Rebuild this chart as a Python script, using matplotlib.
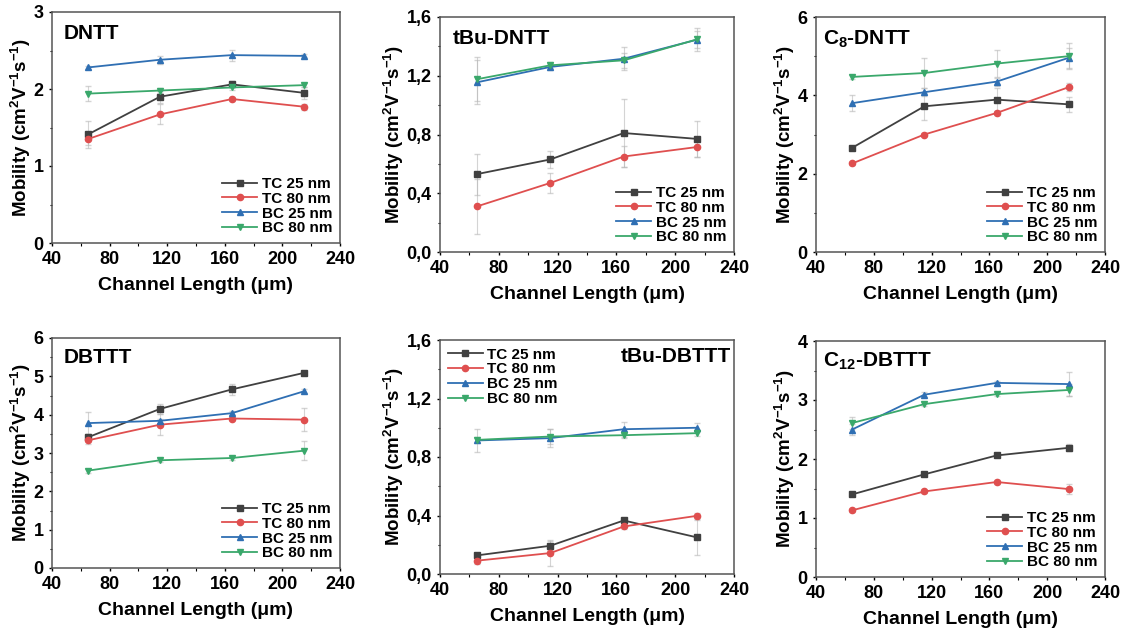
import numpy as np
import matplotlib
matplotlib.use('Agg')
from matplotlib import pyplot as plt
from matplotlib.ticker import MultipleLocator, FuncFormatter

plt.rcParams['font.family'] = ['Liberation Sans', 'DejaVu Sans']
plt.rcParams['font.weight'] = 'bold'
plt.rcParams['mathtext.fontset'] = 'custom'
plt.rcParams['mathtext.rm'] = 'Liberation Sans:bold'
plt.rcParams['mathtext.bf'] = 'Liberation Sans:bold'
plt.rcParams['mathtext.default'] = 'bf'

# channel lengths (um)
L = [65, 115, 165, 215]
series = ['TC 25 nm', 'TC 80 nm', 'BC 25 nm', 'BC 80 nm']

# DNTT
dntt = [[1.41, 1.90, 2.06, 1.95],
        [1.35, 1.67, 1.87, 1.77],
        [2.28, 2.38, 2.44, 2.43],
        [1.94, 1.98, 2.02, 2.05]]
dntt_err = [[0.17, 0.08, 0.04, 0.08],
            [0.08, 0.13, 0.03, 0.04],
            [0.02, 0.05, 0.07, 0.02],
            [0.10, 0.03, 0.03, 0.03]]
# tBu-DNTT
tbu_dntt = [[0.53, 0.63, 0.81, 0.77],
            [0.31, 0.47, 0.65, 0.715],
            [1.155, 1.26, 1.316, 1.446],
            [1.176, 1.271, 1.305, 1.448]]
tbu_dntt_err = [[0.14, 0.06, 0.23, 0.12],
                [0.19, 0.07, 0.07, 0.07],
                [0.15, 0.02, 0.08, 0.08],
                [0.15, 0.02, 0.05, 0.06]]
# C8-DNTT
c8_dntt = [[2.66, 3.72, 3.89, 3.77],
           [2.26, 3.00, 3.55, 4.21],
           [3.80, 4.08, 4.35, 4.96],
           [4.47, 4.57, 4.81, 5.00]]
c8_dntt_err = [[0.05, 0.35, 0.30, 0.20],
               [0.05, 0.05, 0.05, 0.10],
               [0.20, 0.10, 0.10, 0.25],
               [0.05, 0.38, 0.35, 0.33]]
# DBTTT
dbttt = [[3.41, 4.15, 4.66, 5.09],
         [3.33, 3.74, 3.90, 3.87],
         [3.78, 3.84, 4.04, 4.61],
         [2.54, 2.81, 2.87, 3.06]]
dbttt_err = [[0.08, 0.12, 0.15, 0.05],
             [0.10, 0.28, 0.05, 0.30],
             [0.28, 0.05, 0.05, 0.05],
             [0.05, 0.05, 0.05, 0.25]]
# tBu-DBTTT
tbu_dbttt = [[0.127, 0.193, 0.366, 0.25],
             [0.091, 0.143, 0.325, 0.398],
             [0.913, 0.929, 0.99, 1.00],
             [0.917, 0.94, 0.949, 0.963]]
tbu_dbttt_err = [[0.02, 0.03, 0.02, 0.12],
                 [0.02, 0.09, 0.02, 0.02],
                 [0.08, 0.06, 0.05, 0.03],
                 [0.02, 0.05, 0.02, 0.02]]
# C12-DBTTT
c12_dbttt = [[1.40, 1.74, 2.06, 2.19],
             [1.13, 1.45, 1.61, 1.49],
             [2.50, 3.09, 3.29, 3.27],
             [2.61, 2.93, 3.10, 3.17]]
c12_dbttt_err = [[0.03, 0.03, 0.03, 0.06],
                 [0.03, 0.03, 0.03, 0.08],
                 [0.10, 0.04, 0.03, 0.20],
                 [0.10, 0.03, 0.03, 0.10]]

colors = ['#404040', '#df4f4f', '#2f6fb3', '#3aa86b']
markers = ['s', 'o', '^', 'v']

W, H = 1121, 635
fig = plt.figure(figsize=(W/100, H/100), dpi=100)

# (name, data, err, ymax, ystep, comma, box px (l, r, t, b), title pos, legend loc)
panels = [
  ('DNTT', dntt, dntt_err, 3, 1, False, (52, 340, 12, 243), (0.04, 0.95, 'left'), 'lower right'),
  ('tBu-DNTT', tbu_dntt, tbu_dntt_err, 1.6, 0.4, True, (440, 734, 17, 252), (0.045, 0.95, 'left'), 'lower right'),
  ('C$_{8}$-DNTT', c8_dntt, c8_dntt_err, 6, 2, False, (816, 1105, 17, 252), (0.025, 0.95, 'left'), 'lower right'),
  ('DBTTT', dbttt, dbttt_err, 6, 1, False, (52, 340, 338, 568), (0.04, 0.955, 'left'), 'lower right'),
  ('tBu-DBTTT', tbu_dbttt, tbu_dbttt_err, 1.6, 0.4, True, (440, 734, 340, 574), (0.99, 0.97, 'right'), 'upper left'),
  ('C$_{12}$-DBTTT', c12_dbttt, c12_dbttt_err, 4, 1, False, (816, 1105, 341, 577), (0.025, 0.96, 'left'), 'lower right'),
]

for name, data, err, ymax, ystep, comma, box, tpos, lloc in panels:
  l, r, t, b = box
  ax = fig.add_axes([l/W, 1 - b/H, (r-l)/W, (b-t)/H])
  for k in range(4):
    ax.errorbar(L, data[k], yerr=err[k], fmt='none', ecolor='#b8b8b8',
                elinewidth=0.8, capsize=2.5, alpha=0.6, zorder=1)
    ax.plot(L, data[k], '-', marker=markers[k], color=colors[k], lw=1.3,
            ms=4.5, label=series[k], zorder=2)
  ax.set_xlim(40, 240)
  ax.set_ylim(0, ymax)
  ax.xaxis.set_major_locator(MultipleLocator(40))
  ax.xaxis.set_minor_locator(MultipleLocator(20))
  ax.yaxis.set_major_locator(MultipleLocator(ystep))
  ax.yaxis.set_minor_locator(MultipleLocator(ystep/2))
  if comma:
    ax.yaxis.set_major_formatter(FuncFormatter(lambda v, p: f'{v:.1f}'.replace('.', ',')))
  ax.tick_params(which='major', direction='out', length=2.5, width=1, labelsize=13)
  ax.tick_params(axis='x', which='major', pad=3)
  ax.tick_params(axis='y', which='major', pad=3.5)
  ax.tick_params(which='minor', direction='out', length=1.8, width=0.8)
  for s in ax.spines.values():
    s.set_color('#555555')
    s.set_linewidth(1.1)
  ax.set_xlabel('Channel Length (μm)', fontsize=14, fontweight='bold', labelpad=7)
  ax.set_ylabel('Mobility (cm$^{2}$V$^{-1}$s$^{-1}$)', fontsize=13.5, fontweight='bold', labelpad=0.5)
  ax.text(tpos[0], tpos[1], name, transform=ax.transAxes, ha=tpos[2], va='top',
          fontsize=15, fontweight='bold')
  ax.legend(loc=lloc, frameon=False, fontsize=11, handlelength=2.3,
            labelspacing=0.05, borderaxespad=0.3, handletextpad=0.3, borderpad=0.2)

fig.savefig('out.png', dpi=100)
